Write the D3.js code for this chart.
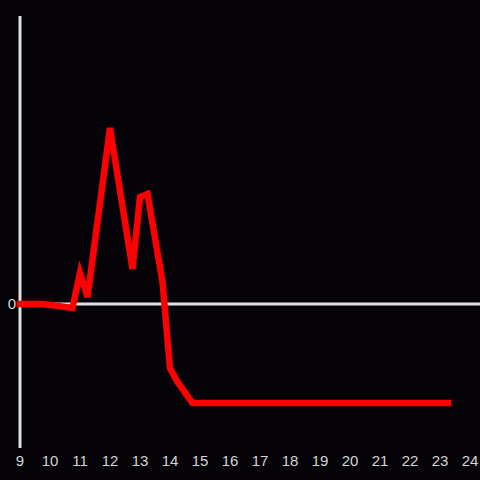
<!DOCTYPE html>
<html>
<head>
<meta charset="utf-8">
<script src="https://cdn.jsdelivr.net/npm/d3@7"></script>
<style>
  html, body { margin: 0; padding: 0; background: #050307; }
</style>
</head>
<body>
<div id="chart"></div>
<script>
// hours of day (x) and values (y)
const hours  = [9, 9.75, 10.75, 11, 11.25, 12, 12.75, 13, 13.25, 13.75, 14, 14.25, 14.75, 23.27];
const values = [0, 0, -4, 31, 7, 176, 35, 107, 110, 22, -64, -78, -99, -99];
const xTicks = d3.range(9, 25);
const yTicks = [0];

const width = 480, height = 480;

const svg = d3.select('#chart')
  .append('svg')
  .attr('width', width)
  .attr('height', height)
  .style('display', 'block')
  .style('background', '#050307');

// scales
const x = d3.scaleLinear().domain([9, 24]).range([20, 470]);
const y = d3.scaleLinear().domain([-144, 288]).range([448, 16]);

// y axis line
svg.append('line')
  .attr('x1', x(9)).attr('x2', x(9))
  .attr('y1', y(288)).attr('y2', y(-144))
  .attr('stroke', '#e0e0e0')
  .attr('stroke-width', 3);

// zero line
svg.append('line')
  .attr('x1', x(9)).attr('x2', width)
  .attr('y1', y(0)).attr('y2', y(0))
  .attr('stroke', '#e0e0e0')
  .attr('stroke-width', 3);

// x tick labels
svg.append('g').selectAll('text')
  .data(xTicks)
  .join('text')
  .attr('x', d => x(d))
  .attr('y', 466)
  .attr('text-anchor', 'middle')
  .attr('font-family', 'Liberation Sans, Arial, sans-serif')
  .attr('font-size', 15)
  .attr('fill', '#d4d4d4')
  .text(d => d);

// y tick labels
svg.append('g').selectAll('text')
  .data(yTicks)
  .join('text')
  .attr('x', 16)
  .attr('y', d => y(d))
  .attr('dy', '0.35em')
  .attr('text-anchor', 'end')
  .attr('font-family', 'Liberation Sans, Arial, sans-serif')
  .attr('font-size', 15)
  .attr('fill', '#d4d4d4')
  .text(d => d);

// red line
const line = d3.line()
  .x((d, i) => x(hours[i]))
  .y(d => y(d));

svg.append('path')
  .datum(values)
  .attr('d', line)
  .attr('fill', 'none')
  .attr('stroke', '#ff0000')
  .attr('stroke-width', 6.5)
  .attr('stroke-linecap', 'square')
  .attr('stroke-linejoin', 'miter');
</script>
</body>
</html>
